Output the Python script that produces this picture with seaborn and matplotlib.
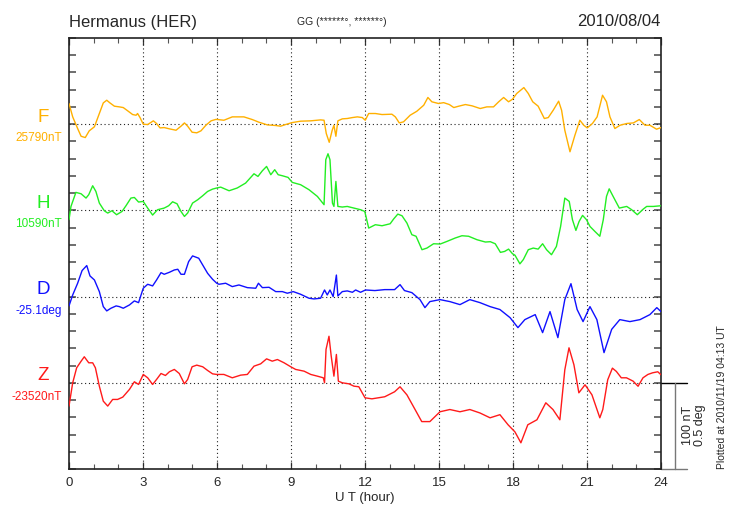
import numpy as np
import pandas as pd
import matplotlib
matplotlib.use("Agg")
import matplotlib.pyplot as plt
import matplotlib.transforms as mtransforms
import seaborn as sns

# ---------------- data (deviation from baseline, nT or scaled deg) ----------------
f_hour = [0, 0.15, 0.35, 0.49, 0.66, 0.82, 1.03, 1.23, 1.39, 1.53, 1.66, 1.84, 2.04, 2.2, 2.38, 2.58,
          2.72, 2.78, 2.88, 3.01, 3.19, 3.42, 3.55, 3.69, 3.86, 4.07, 4.34, 4.54, 4.68, 4.81, 4.99,
          5.18, 5.35, 5.55, 5.76, 5.96, 6.28, 6.62, 7.09, 7.43, 7.7, 8.04, 8.38, 8.58, 8.78, 9.05,
          9.39, 9.8, 10.2, 10.34, 10.43, 10.55, 10.67, 10.74, 10.82, 10.9, 11.08, 11.28, 11.49,
          11.69, 11.89, 12.01, 12.15, 12.42, 12.69, 13.09, 13.23, 13.39, 13.56, 13.83, 14.1, 14.38,
          14.55, 14.71, 14.98, 15.19, 15.42, 15.6, 15.8, 16.07, 16.34, 16.67, 16.94, 17.21, 17.42,
          17.62, 17.82, 17.98, 18.15, 18.44, 18.62, 18.8, 19.02, 19.27, 19.43, 19.63, 19.85, 19.97,
          20.1, 20.31, 20.51, 20.71, 20.87, 21.01, 21.22, 21.41, 21.63, 21.79, 21.93, 22.13, 22.34,
          22.61, 22.88, 23.12, 23.35, 23.55, 23.82, 24.0]
f_dev = [24, 8.5, -5, -14, -15.5, -7.7, -3, 12.4, 24.7, 27.8, 24.7, 20.9, 20.1, 19.3, 15.5, 11.2,
         10.4, 12.4, 7.7, 0, -0.4, 3.9, 0.8, -4.3, -3.9, -5.4, -7, -2.3, 1.5, -2.3, -9.3,
         -10, -7.7, -1.2, 3.9, 5.6, 4.6, 8.5, 8.5, 5.4, 2.3, -0.8, -1.5, -2.3, -0.4, 1.9,
         3.5, 3.9, 5, 4.6, -10.8, -21, -7, -1.2, -14, 3.9, 6.2, 6.6, 7.7,
         8.5, 7.7, 4.6, 12.4, 12.4, 11.2, 11.6, 8.5, 1.5, 2.7, 10.4, 15, 22,
         31, 26, 24, 25, 22.8, 19.3, 20.9, 22.8, 21.3, 18.2, 20.1, 20.1, 26,
         31, 26, 29, 35.6, 42.5, 35.6, 26, 20.9, 6.6, 7.7, 16.2, 26.7, 16.2,
         -7, -32, -12.8, 4.6, -1.2, -4.3, 0.8, 8.5, 33.6, 26, 8.5, -5, -1.2,
         0.8, 1.5, 5.4, -1.2, -1.2, -5.8, -3.9]

h_hour = [0, 0.08, 0.28, 0.49, 0.69, 0.8, 0.96, 1.09, 1.23, 1.43, 1.57, 1.74, 1.93, 2.15, 2.31, 2.51,
          2.65, 2.82, 3.01, 3.19, 3.39, 3.59, 3.86, 4.04, 4.2, 4.38, 4.54, 4.68, 4.81, 5.01, 5.22,
          5.42, 5.62, 5.82, 5.99, 6.15, 6.49, 6.82, 7.16, 7.5, 7.66, 7.84, 8.01, 8.18, 8.34, 8.48,
          8.65, 8.88, 9.05, 9.39, 9.73, 10.07, 10.34, 10.41, 10.5, 10.58, 10.68, 10.74, 10.82, 10.9,
          11.08, 11.28, 11.55, 11.82, 11.99, 12.15, 12.42, 12.69, 13.02, 13.16, 13.33, 13.5, 13.7,
          13.9, 14.07, 14.31, 14.51, 14.78, 15.05, 15.32, 15.66, 15.93, 16.2, 16.54, 16.88, 17.08,
          17.28, 17.49, 17.66, 17.82, 17.98, 18.08, 18.28, 18.42, 18.62, 18.82, 19.02, 19.2, 19.36,
          19.56, 19.76, 19.93, 20.1, 20.28, 20.41, 20.55, 20.68, 20.82, 20.98, 21.12, 21.32, 21.52,
          21.66, 21.79, 21.9, 22.06, 22.31, 22.61, 22.81, 23.04, 23.28, 23.42, 23.69, 24.0]
h_dev = [-10.8, 4.6, 20.9, 19.3, 14.3, 18.2, 28.6, 22, 8.5, -0.4, -3.1, -0.4, -5, -1.2, 5.4, 14.3,
         15, 9.7, 10.4, 2.7, -5.4, 0.8, 2.7, 5.4, 10, 7.7, -1.2, -7, -3.1, 8.5, 12.4,
         17, 22, 24.7, 26, 27, 22.8, 26, 31.7, 42.5, 39.4, 46, 51, 41.4, 47.2, 41.4,
         40.2, 38.3, 32.5, 29.8, 24, 16.2, 6.6, 58.8, 65.7, 58.8, 8.5, 4.6, 33.6, 4.6,
         3.9, 4.6, 2.7, 0.8, -1.2, -20.5, -16.6, -17.8, -15.5, -10, -4.3, -6.2, -14.7,
         -28.2, -30, -45.6, -43.7, -38.7, -39, -36, -32, -29.4, -30, -34, -36.7, -36.3,
         -38.7, -48.7, -47.6, -44.9, -50.3, -52, -62, -57, -45.6, -43.7, -44.9, -38.7, -45.6,
         -51.4, -41.8, -18.6, 14.3, 10.4, -10.8, -23.2, -12.8, -5.8, -10.8, -18.6, -24.4, -30,
         -10.8, 16.2, 25, 16.2, 2.7, 4.6, 0.8, -5, 1.5, 4.6, 4.6, 5.4]

d_hour = [0, 0.15, 0.35, 0.53, 0.72, 0.85, 1.03, 1.23, 1.39, 1.53, 1.7, 1.91, 2.04, 2.2, 2.45, 2.65,
          2.82, 3.01, 3.19, 3.39, 3.55, 3.73, 3.86, 4.07, 4.27, 4.41, 4.54, 4.68, 4.85, 5.01, 5.26,
          5.42, 5.62, 5.82, 5.99, 6.08, 6.35, 6.62, 6.89, 7.23, 7.57, 7.68, 7.84, 8.11, 8.38, 8.65,
          8.85, 9.09, 9.39, 9.73, 9.93, 10.2, 10.36, 10.47, 10.58, 10.71, 10.84, 10.9, 11.08, 11.28,
          11.49, 11.62, 11.82, 12.02, 12.4, 12.8, 13.2, 13.42, 13.6, 13.9, 14.23, 14.43, 14.63,
          15.04, 15.44, 15.85, 16.25, 16.66, 17.07, 17.47, 17.88, 18.2, 18.48, 18.9, 19.2, 19.5,
          19.82, 20.1, 20.35, 20.6, 20.84, 21.12, 21.4, 21.69, 22.0, 22.33, 22.74, 23.15, 23.55,
          23.83, 24.0]
d_dev = [-10.8, 1.9, 15.5, 30.2, 36, 24, 19.3, 5.8, -11.6, -16.6, -13.5, -10.8, -11.6, -13.5, -9.7, -5,
         -7, 9.7, 14.3, 12.4, 19.3, 27.8, 25.9, 28.2, 30.9, 31.7, 25.9, 25.9, 40.6, 47.2, 44.5,
         36.7, 27, 20.1, 15.5, 14.3, 15.5, 11.6, 13.5, 10.4, 9.7, 15.5, 10.4, 10.8, 5.8, 5.8,
         3.9, 5.8, 2.7, -1.9, -2.7, -1.9, 7.7, 1.9, 7.7, 0, 25, 0.8, 5.8, 6.6,
         5, 7.7, 5, 7.7, 7, 8.1, 8.1, 13.9, 7, 4.6, -3.5, -12.8, -5.8,
         -3.5, -5.8, -9.3, -3.5, -7, -11.6, -15, -24.4, -36, -26.7, -20.9, -41.8, -17.4,
         -47.6, -3.5, 15, -15, -29, -11.6, -26.7, -65, -38, -26.7, -29, -26.7, -20.9,
         -12.8, -17.4]

z_hour = [0, 0.15, 0.31, 0.49, 0.62, 0.8, 0.96, 1.07, 1.23, 1.39, 1.57, 1.77, 1.97, 2.18, 2.45, 2.65,
          2.82, 3.01, 3.19, 3.39, 3.55, 3.73, 3.91, 4.07, 4.27, 4.47, 4.68, 4.81, 4.99, 5.18, 5.42,
          5.62, 5.82, 5.99, 6.28, 6.62, 6.96, 7.23, 7.5, 7.77, 8.01, 8.24, 8.45, 8.72, 8.99, 9.19,
          9.53, 9.8, 10.07, 10.31, 10.36, 10.42, 10.54, 10.63, 10.74, 10.84, 10.92, 11.08, 11.35,
          11.55, 11.75, 12.0, 12.28, 12.8, 13.2, 13.42, 13.7, 14.03, 14.3, 14.63, 15.04, 15.44,
          15.85, 16.25, 16.66, 17.07, 17.47, 17.8, 18.08, 18.32, 18.6, 18.97, 19.33, 19.62, 19.9,
          20.1, 20.27, 20.47, 20.67, 20.92, 21.2, 21.52, 21.64, 21.84, 22.03, 22.19, 22.39, 22.6,
          22.87, 23.07, 23.27, 23.47, 23.66, 23.87, 24.0]
z_dev = [-27, 0, 17.4, 25, 30.2, 23.2, 23.2, 17.4, -3.9, -21.3, -27, -19.3, -19.3, -16.6, -7.7, 1.2,
         -1.9, 9.7, 5.8, -1.9, 3.9, 10.8, 8.5, 12.8, 15.5, 10.8, -1.2, 3.9, 18.6, 20.5, 18.6,
         14.3, 10.4, 9.7, 9.7, 5.8, 8.9, 9.7, 19.3, 22, 27.8, 25.1, 27, 23.2, 18.6, 15.5,
         13.5, 9.7, 7.7, 5.8, 0, 38.7, 54, 31, 7.7, 32.9, 1.9, 0, -1.2,
         -3.9, -4.6, -17.4, -18.6, -16.2, -10.4, -4.6, -14, -31, -45, -45, -33.6, -31,
         -33.6, -31, -35, -40.6, -37, -48.7, -57, -69.6, -48.7, -42.9, -23.2, -31, -42.9,
         15, 40.6, 20.9, -11.6, -2.3, -13.9, -40.6, -31, 3.5, 17, 13.2, 5.8, 5.8,
         1.9, -4, 5.8, 9.7, 11.6, 12.8, 9.3]

components = ["F", "H", "D", "Z"]
base_labels = ["25790nT", "10590nT", "-25.1deg", "-23520nT"]
colors = ["#FFB000", "#22EE22", "#1010FF", "#FF1A1A"]
offsets = [400, 300, 200, 100]

frames = []
for comp, hrs, dev, off in zip(components, [f_hour, h_hour, d_hour, z_hour],
                               [f_dev, h_dev, d_dev, z_dev], offsets):
    frames.append(pd.DataFrame({"hour": hrs, "value": np.array(dev) + off, "comp": comp}))
df = pd.concat(frames, ignore_index=True)

# ---------------- figure ----------------
sns.set_theme(style="white")
plt.rcParams["font.family"] = ["Liberation Sans", "DejaVu Sans"]

fig = plt.figure(figsize=(7.3, 5.2), dpi=100)
ax = fig.add_axes([69 / 730, 1 - 469 / 520, 592 / 730, 431 / 520])

sns.lineplot(data=df, x="hour", y="value", hue="comp", palette=dict(zip(components, colors)),
             estimator=None, sort=False, lw=1.0, legend=False, ax=ax, zorder=3)

ax.set_xlim(0, 24)
ax.set_ylim(0, 500)

# grid: dotted verticals every 3 h, dotted baselines
for xv in range(3, 24, 3):
    ax.axvline(xv, color="#222222", ls=(0, (1, 2.5)), lw=0.8, zorder=1)
for off in offsets:
    ax.axhline(off, color="#222222", ls=(0, (1, 2.5)), lw=0.8, zorder=1)

ax.set_xticks(range(0, 25, 3))
ax.set_xticks(range(0, 25, 1), minor=True)
ax.set_yticks(range(0, 501, 20))
ax.set_yticklabels([])
ax.tick_params(axis="x", which="major", direction="in", length=5, width=0.9, color="#333333",
               top=True, bottom=True, labelsize=9.5, pad=6)
ax.tick_params(axis="x", which="minor", direction="in", length=3.5, width=0.8, color="#555555",
               top=True, bottom=True)
ax.tick_params(axis="y", which="major", direction="in", length=5, width=1.2, color="#555555",
               left=True, right=True)
ax.set_xlabel("U T (hour)", fontsize=9.5, labelpad=2)
ax.set_ylabel("")
for sp in ax.spines.values():
    sp.set_color("#222222")
    sp.set_linewidth(1.2)

# left labels
for comp, lab, col, off in zip(components, base_labels, colors, offsets):
    yb = 1 - (469 - off * 431 / 500) / 520
    fig.text(43 / 730, yb + 7 / 520, comp, color=col, fontsize=13.5, ha="center", va="center")
    fig.text(62 / 730, yb - 14 / 520, lab, color=col, fontsize=8.5, ha="right", va="center")

# titles
fig.text(69 / 730, 1 - 22 / 520, "Hermanus (HER)", fontsize=12, ha="left", va="center")
fig.text(661 / 730, 1 - 22 / 520, "2010/08/04", fontsize=12, ha="right", va="center")
fig.text(342 / 730, 1 - 22 / 520, "GG (******°, ******°)", fontsize=7.5, ha="center", va="center")

# scale bar
tr = mtransforms.blended_transform_factory(ax.transAxes, ax.transData)
ax.plot([1.0, 1.044], [100, 100], color="black", lw=1.0, transform=tr, clip_on=False)
ax.plot([1.0, 1.044], [0, 0], color="#777777", lw=1.0, transform=tr, clip_on=False)
ax.plot([1.0236, 1.0236], [0, 100], color="#777777", lw=1.0, transform=tr, clip_on=False)
fig.text(694 / 730, 1 - 425 / 520, "100 nT\n0.5 deg", rotation=90, fontsize=9,
         ha="center", va="center", linespacing=1.0)
fig.text(722 / 730, 1 - 469 / 520, "Plotted at 2010/11/19 04:13 UT", rotation=90, fontsize=7.5,
         ha="center", va="bottom")

fig.savefig("out.png", dpi=100, facecolor="white")
